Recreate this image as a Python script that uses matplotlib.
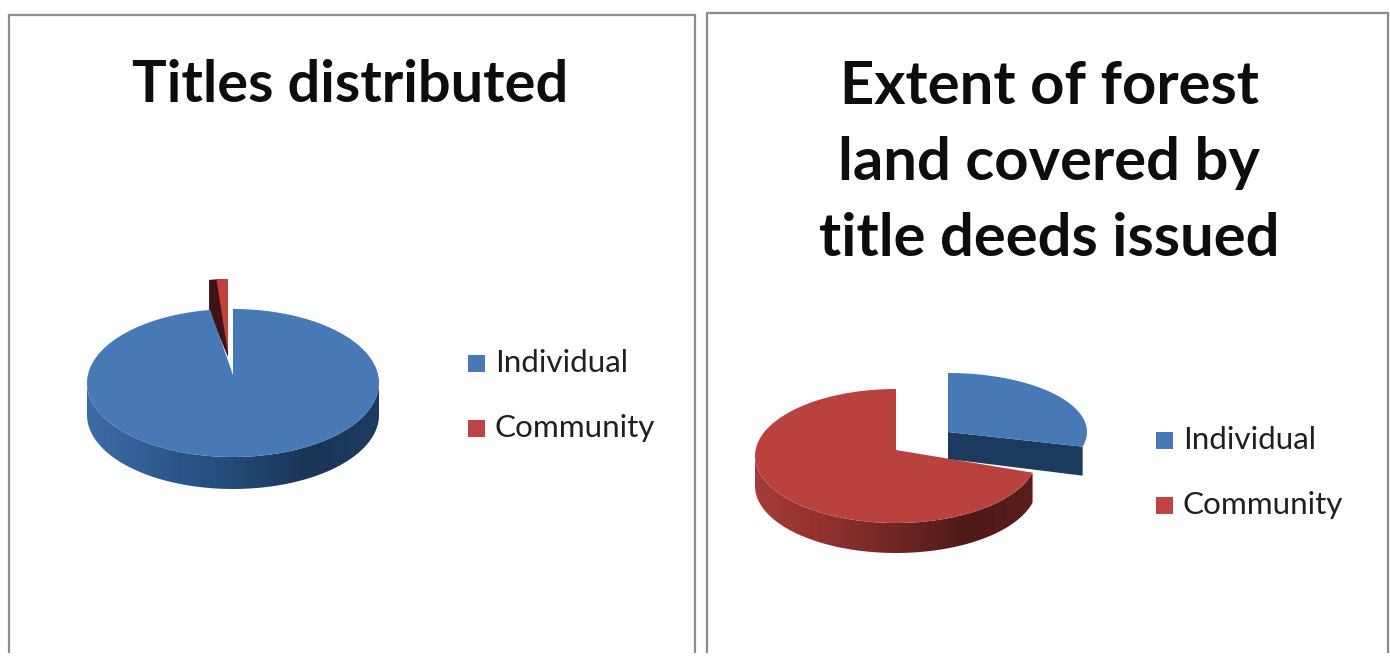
import numpy as np
import matplotlib
matplotlib.use('Agg')
import matplotlib.pyplot as plt
from matplotlib.colors import LinearSegmentedColormap
from matplotlib.patches import Polygon, Rectangle

plt.rcParams['font.family'] = ['Lato', 'DejaVu Sans']

# shares in percent, first slice starts at 12 o'clock and runs clockwise
categories = ['Individual', 'Community']
titles_shares = [97.5, 2.5]
extent_shares = [29, 71]

titles_title = 'Titles distributed'
extent_title = 'Extent of forest\nland covered by\ntitle deeds issued'

BLUE = '#4679b6'
RED = '#b9423f'
BLUE_WALL = ['#3c6ca6', '#2f5a90', '#234a78', '#1b3556', '#1d3a60']
RED_WALL = ['#a63b39', '#8f3230', '#702624', '#4e1918', '#5c1e1d']


def rim(cx, cy, rx, ry, a0, a1, n=120):
    t = np.radians(np.linspace(a0, a1, n))
    return cx + rx * np.sin(t), cy - ry * np.cos(t)


def slice_face(ax, share_from, share_to, cx, cy, rx, ry, color, lift=0, z=3):
    a0, a1 = 3.6 * share_from, 3.6 * share_to
    xs, ys = rim(cx, cy, rx, ry, a0, a1)
    pts = np.vstack([[cx, cy - lift], np.column_stack([xs, ys])])
    ax.add_patch(Polygon(pts, closed=True, fc=color, ec='none', zorder=z))
    return a0, a1


def outer_wall(ax, a0, a1, cx, cy, rx, ry, depth, stops, z=2):
    # only the front half of the rim can be seen
    a0, a1 = max(a0, 90), min(a1, 270)
    if a1 <= a0:
        return
    xs, ys = rim(cx, cy, rx, ry, a0, a1)
    pts = np.vstack([np.column_stack([xs, ys]),
                     np.column_stack([xs, ys + depth])[::-1]])
    poly = Polygon(pts, closed=True, fc='none', ec='none', zorder=z)
    ax.add_patch(poly)
    # wall shading runs left to right across the full width of the disc
    cmap = LinearSegmentedColormap.from_list('wall', stops)
    im = ax.imshow(np.linspace(0, 1, 256)[None, :], cmap=cmap, aspect='auto',
                   extent=[cx - rx, cx + rx, cy + ry + depth, cy - ry], zorder=z)
    im.set_clip_path(poly)


fig = plt.figure(figsize=(13.9, 6.57), dpi=100)
ax = fig.add_axes([0, 0, 1, 1])
ax.axis('off')

# panel frames, open at the bottom
for x0, x1, top in [(9, 695, 15), (707, 1388, 13)]:
    ax.plot([x0, x0, x1, x1], [652, top, top, 652], color='#8c8c8c', lw=1.6,
            solid_joinstyle='miter', zorder=1)

# left pie: community slice pulled out towards the top, dark cut face behind it
ind, com = titles_shares
cx, cy, rx, ry, depth = 233, 383, 146, 74, 32
far_x, far_y, far_rx, far_ry = 228, 353, 121, 74
xs, ys = rim(far_x, far_y, far_rx, far_ry, 3.6 * ind, 360)
back = np.vstack([np.column_stack([xs, ys]), [far_x, far_y + 4], [xs[0], ys[0] + 32]])
ax.add_patch(Polygon(back, closed=True, fc='#3d1413', ec='none', zorder=2))
slice_face(ax, ind + com * 0.39, ind + com, far_x, far_y, far_rx, far_ry, '#c0413f', z=2.5)
a0, a1 = slice_face(ax, 0, ind, cx, cy, rx, ry, BLUE, lift=8, z=4)
outer_wall(ax, a0, a1, cx, cy, rx, ry, depth, BLUE_WALL, z=3)

# right pie: individual slice pulled out to the upper right
ind, com = extent_shares
cx, cy, rx, ry, depth = 896, 456, 141, 67, 30
a0, a1 = slice_face(ax, ind, ind + com, cx, cy, rx, ry, RED, lift=6, z=4)
outer_wall(ax, a0, a1, cx, cy, rx, ry, depth, RED_WALL, z=3)

cx, cy, rx, ry, depth = 948, 432, 139, 59, 29
a0, a1 = slice_face(ax, 0, ind, cx, cy, rx, ry, BLUE, z=6)
ex, ey = rim(cx, cy, rx, ry, a1, a1, n=1)
cut = [[cx, cy], [ex[0], ey[0]], [ex[0], ey[0] + depth], [cx, cy + depth - 2]]
ax.add_patch(Polygon(cut, closed=True, fc='#1c3a5e', ec='none', zorder=5))

# titles
ax.text(350, 85, titles_title, ha='center', va='center', fontsize=41.6,
        fontweight='bold', color='#0d0d0d', zorder=7)
ax.text(1049, 163, extent_title, ha='center', va='center', fontsize=43,
        fontweight='bold', color='#0d0d0d', linespacing=1.5, zorder=7)

# legends
for lx, ly in [(468, (363, 428)), (1156, (440, 505))]:
    for name, color, y in zip(categories, ['#4679b6', '#bf4346'], ly):
        ax.add_patch(Rectangle((lx, y - 8), 17, 17, fc=color, ec='none', zorder=7))
        ax.text(lx + 27, y, name, ha='left', va='center', fontsize=22.6,
                color='#1f1f1f', zorder=7)

ax.set_xlim(0, 1390)
ax.set_ylim(657, 0)
fig.savefig('out.png', dpi=100)
